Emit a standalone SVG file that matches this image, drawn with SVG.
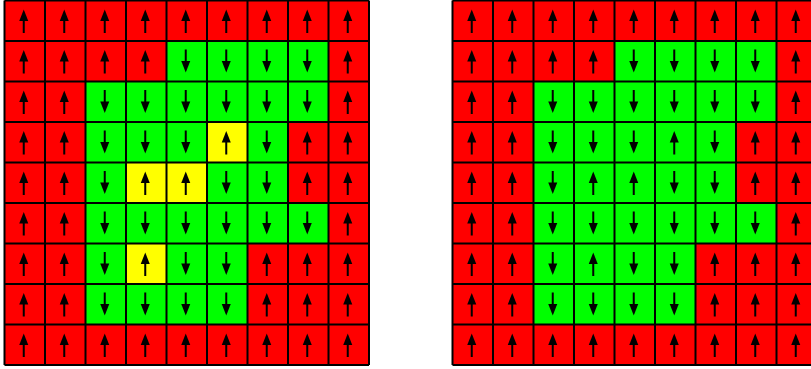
<svg xmlns="http://www.w3.org/2000/svg" xmlns:xlink="http://www.w3.org/1999/xlink" width="811" height="369" viewBox="0 0 811 369">
<style>
.r{fill:#FF0000}.g{fill:#00FF00}.y{fill:#FFFF00}
.ln{fill:none;stroke:#000;stroke-width:2}
.a{fill:#000}
</style>
<defs>
<g id="up" class="a"><polygon points="19.25,9 14.75,20.5 23.75,20.5"/><rect x="18.25" y="19" width="2" height="13.5"/></g>
<g id="dn" class="a"><rect x="18.25" y="8.5" width="2" height="12.5"/><polygon points="14.75,20 23.75,20 19.25,31.5"/></g>
<path id="lines" class="ln" d="M0 0V364.5M40.5 0V364.5M81 0V364.5M121.5 0V364.5M162 0V364.5M202.5 0V364.5M243 0V364.5M283.5 0V364.5M324 0V364.5M364.5 0V364.5M0 0H364.5M0 40.5H364.5M0 81H364.5M0 121.5H364.5M0 162H364.5M0 202.5H364.5M0 243H364.5M0 283.5H364.5M0 324H364.5M0 364.5H364.5"/>
<g id="arrows">
<use href="#up" x="0" y="0"/><use href="#up" x="40.5" y="0"/><use href="#up" x="81" y="0"/><use href="#up" x="121.5" y="0"/><use href="#up" x="162" y="0"/><use href="#up" x="202.5" y="0"/><use href="#up" x="243" y="0"/><use href="#up" x="283.5" y="0"/><use href="#up" x="324" y="0"/>
<use href="#up" x="0" y="40.5"/><use href="#up" x="40.5" y="40.5"/><use href="#up" x="81" y="40.5"/><use href="#up" x="121.5" y="40.5"/><use href="#dn" x="162" y="40.5"/><use href="#dn" x="202.5" y="40.5"/><use href="#dn" x="243" y="40.5"/><use href="#dn" x="283.5" y="40.5"/><use href="#up" x="324" y="40.5"/>
<use href="#up" x="0" y="81"/><use href="#up" x="40.5" y="81"/><use href="#dn" x="81" y="81"/><use href="#dn" x="121.5" y="81"/><use href="#dn" x="162" y="81"/><use href="#dn" x="202.5" y="81"/><use href="#dn" x="243" y="81"/><use href="#dn" x="283.5" y="81"/><use href="#up" x="324" y="81"/>
<use href="#up" x="0" y="121.5"/><use href="#up" x="40.5" y="121.5"/><use href="#dn" x="81" y="121.5"/><use href="#dn" x="121.5" y="121.5"/><use href="#dn" x="162" y="121.5"/><use href="#up" x="202.5" y="121.5"/><use href="#dn" x="243" y="121.5"/><use href="#up" x="283.5" y="121.5"/><use href="#up" x="324" y="121.5"/>
<use href="#up" x="0" y="162"/><use href="#up" x="40.5" y="162"/><use href="#dn" x="81" y="162"/><use href="#up" x="121.5" y="162"/><use href="#up" x="162" y="162"/><use href="#dn" x="202.5" y="162"/><use href="#dn" x="243" y="162"/><use href="#up" x="283.5" y="162"/><use href="#up" x="324" y="162"/>
<use href="#up" x="0" y="202.5"/><use href="#up" x="40.5" y="202.5"/><use href="#dn" x="81" y="202.5"/><use href="#dn" x="121.5" y="202.5"/><use href="#dn" x="162" y="202.5"/><use href="#dn" x="202.5" y="202.5"/><use href="#dn" x="243" y="202.5"/><use href="#dn" x="283.5" y="202.5"/><use href="#up" x="324" y="202.5"/>
<use href="#up" x="0" y="243"/><use href="#up" x="40.5" y="243"/><use href="#dn" x="81" y="243"/><use href="#up" x="121.5" y="243"/><use href="#dn" x="162" y="243"/><use href="#dn" x="202.5" y="243"/><use href="#up" x="243" y="243"/><use href="#up" x="283.5" y="243"/><use href="#up" x="324" y="243"/>
<use href="#up" x="0" y="283.5"/><use href="#up" x="40.5" y="283.5"/><use href="#dn" x="81" y="283.5"/><use href="#dn" x="121.5" y="283.5"/><use href="#dn" x="162" y="283.5"/><use href="#dn" x="202.5" y="283.5"/><use href="#up" x="243" y="283.5"/><use href="#up" x="283.5" y="283.5"/><use href="#up" x="324" y="283.5"/>
<use href="#up" x="0" y="324"/><use href="#up" x="40.5" y="324"/><use href="#up" x="81" y="324"/><use href="#up" x="121.5" y="324"/><use href="#up" x="162" y="324"/><use href="#up" x="202.5" y="324"/><use href="#up" x="243" y="324"/><use href="#up" x="283.5" y="324"/><use href="#up" x="324" y="324"/>
</g>
<g id="greens" class="g">
<rect x="162" y="40.5" width="162" height="40.5"/>
<rect x="81" y="81" width="243" height="40.5"/>
<rect x="81" y="121.5" width="202.5" height="40.5"/>
<rect x="81" y="162" width="202.5" height="40.5"/>
<rect x="81" y="202.5" width="243" height="40.5"/>
<rect x="81" y="243" width="162" height="40.5"/>
<rect x="81" y="283.5" width="162" height="40.5"/>
</g>
</defs>
<g id="grid-left" transform="translate(4.5,0.5)">
<rect class="r" x="0" y="0" width="364.5" height="364.5"/>
<use href="#greens"/>
<g class="y">
<rect x="202.5" y="121.5" width="40.5" height="40.5"/>
<rect x="121.5" y="162" width="40.5" height="40.5"/>
<rect x="162" y="162" width="40.5" height="40.5"/>
<rect x="121.5" y="243" width="40.5" height="40.5"/>
</g>
<use href="#lines"/>
<use href="#arrows"/>
</g>
<g id="grid-right" transform="translate(452.5,0.5)">
<rect class="r" x="0" y="0" width="364.5" height="364.5"/>
<use href="#greens"/>
<use href="#lines"/>
<use href="#arrows"/>
</g>
</svg>
